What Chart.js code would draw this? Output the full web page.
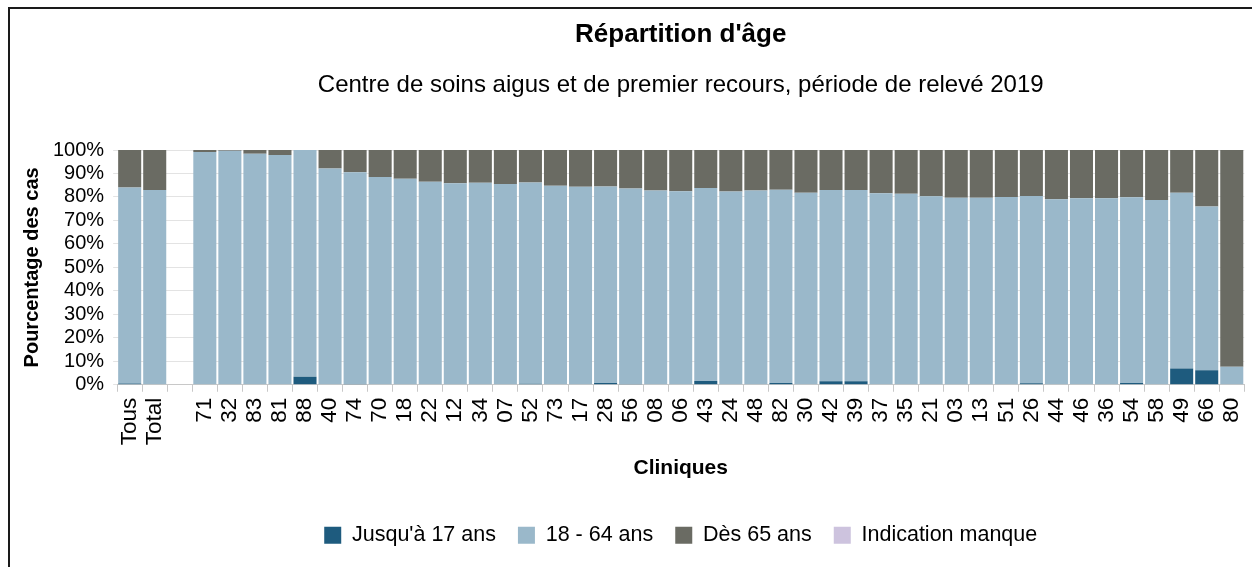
<!DOCTYPE html>
<html>
<head>
<meta charset="utf-8">
<script src="https://cdn.jsdelivr.net/npm/chart.js@4"></script>
<style>
  body { margin: 0; background: #fff; overflow: hidden; }
  #frame { position: absolute; left: 8px; top: 7px; width: 1300px; height: 620px;
           border-left: 2px solid #1a1a1a; border-top: 2px solid #1a1a1a; }
  #wrap { position: absolute; left: 0; top: 0; width: 1265px; height: 567px; }
</style>
</head>
<body>
<div id="frame"></div>
<div id="wrap"><canvas id="myChart" width="1265" height="567"></canvas></div>
<script>
const categories = ["Tous", "Total", "", "71", "32", "83", "81", "88", "40", "74", "70", "18", "22", "12", "34", "07", "52", "73", "17", "28", "56", "08", "06", "43", "24", "48", "82", "30", "42", "39", "37", "35", "21", "03", "13", "51", "26", "44", "46", "36", "54", "58", "49", "66", "80"];

const jusqua17 = [0.5, 0.2, 0, 0, 0.2, 0, 0, 3.4, 0, 0.3, 0, 0, 0, 0, 0, 0, 0.4, 0, 0, 0.8, 0.3, 0, 0, 1.6, 0, 0.2, 0.8, 0, 1.5, 1.5, 0, 0, 0, 0, 0, 0, 0.6, 0, 0, 0.2, 0.8, 0, 6.9, 6.2, 0];
const de18a64 = [83.5, 82.8, 0, 99.1, 99.5, 98.4, 97.9, 96.6, 92.1, 90.2, 88.5, 87.8, 86.5, 85.8, 86.1, 85.5, 85.8, 84.8, 84.3, 83.6, 83.3, 82.7, 82.4, 82.2, 82.3, 82.5, 82.3, 81.8, 81.5, 81.5, 81.6, 81.4, 80.3, 79.7, 79.7, 80.0, 79.8, 79.0, 79.4, 79.2, 79.1, 78.7, 74.9, 69.7, 7.7];
const des65 = [16.0, 17.0, 0, 0.9, 0.3, 1.6, 2.1, 0, 7.9, 9.5, 11.5, 12.2, 13.5, 14.2, 13.9, 14.5, 13.8, 15.2, 15.7, 15.6, 16.4, 17.3, 17.6, 16.2, 17.7, 17.3, 16.9, 18.2, 17.0, 17.0, 18.4, 18.6, 19.7, 20.3, 20.3, 20.0, 19.6, 21.0, 20.6, 20.6, 20.1, 21.3, 18.2, 24.1, 92.3];
const manque = [0, 0, 0, 0, 0, 0, 0, 0, 0, 0, 0, 0, 0, 0, 0, 0, 0, 0, 0, 0, 0, 0, 0, 0, 0, 0, 0, 0, 0, 0, 0, 0, 0, 0, 0, 0, 0, 0, 0, 0, 0, 0, 0, 0, 0];

const seriesNames = ["Jusqu'à 17 ans", "18 - 64 ans", "Dès 65 ans", "Indication manque"];
const seriesColors = ["#1e5b7e", "#9ab8ca", "#6a6b63", "#cdc3de"];
const yTicks = [0, 10, 20, 30, 40, 50, 60, 70, 80, 90, 100];

const FONT = "'Liberation Sans', Arial, sans-serif";

function makeDataset(i, values) {
    return {
        label: seriesNames[i],
        data: values,
        backgroundColor: seriesColors[i],
        borderWidth: 0,
        categoryPercentage: 1,
        barPercentage: 0.92
    };
}

const ctx = document.getElementById("myChart").getContext("2d");
new Chart(ctx, {
    type: "bar",
    data: {
        labels: categories,
        datasets: [
            makeDataset(0, jusqua17),
            makeDataset(1, de18a64),
            makeDataset(2, des65),
            makeDataset(3, manque)
        ]
    },
    options: {
        responsive: false,
        animation: false,
        layout: { padding: { left: 8, right: 0, top: 0, bottom: 11 } },
        plugins: {
            tooltip: { enabled: false },
            title: {
                display: true,
                fullSize: false,
                text: "Répartition d'âge",
                color: "#000",
                font: { family: FONT, size: 26, weight: "bold" },
                padding: { top: 19, bottom: 10 }
            },
            subtitle: {
                display: true,
                fullSize: false,
                text: "Centre de soins aigus et de premier recours, période de relevé 2019",
                color: "#000",
                font: { family: FONT, size: 24 },
                padding: { top: 11, bottom: 50 }
            },
            legend: {
                position: "bottom",
                fullSize: false,
                labels: {
                    color: "#000",
                    font: { family: FONT, size: 21.5 },
                    boxWidth: 17,
                    boxHeight: 17,
                    padding: 22
                }
            }
        },
        scales: {
            x: {
                stacked: true,
                grid: { display: true, drawOnChartArea: false, drawTicks: true, tickLength: 7, color: "#c8c8c8", offset: true },
                border: { display: true, color: "#c8c8c8" },
                ticks: {
                    autoSkip: false,
                    minRotation: 90,
                    maxRotation: 90,
                    color: "#000",
                    padding: 6,
                    font: { family: FONT, size: 22.5 }
                },
                title: {
                    display: true,
                    text: "Cliniques",
                    color: "#000",
                    font: { family: FONT, size: 21, weight: "bold" },
                    padding: { top: 4, bottom: 22 }
                }
            },
            y: {
                stacked: true,
                min: 0,
                max: 100,
                afterBuildTicks: (axis) => { axis.ticks = yTicks.map((v) => ({ value: v })); },
                grid: { color: "#e3e3e3", tickLength: 4 },
                border: { display: false },
                ticks: {
                    autoSkip: false,
                    color: "#000",
                    padding: 9,
                    font: { family: FONT, size: 20 },
                    callback: (v) => v + "%"
                },
                title: {
                    display: true,
                    text: "Pourcentage des cas",
                    color: "#000",
                    font: { family: FONT, size: 20, weight: "bold" },
                    padding: { top: 12, bottom: 0 }
                }
            }
        }
    }
});
</script>
</body>
</html>
